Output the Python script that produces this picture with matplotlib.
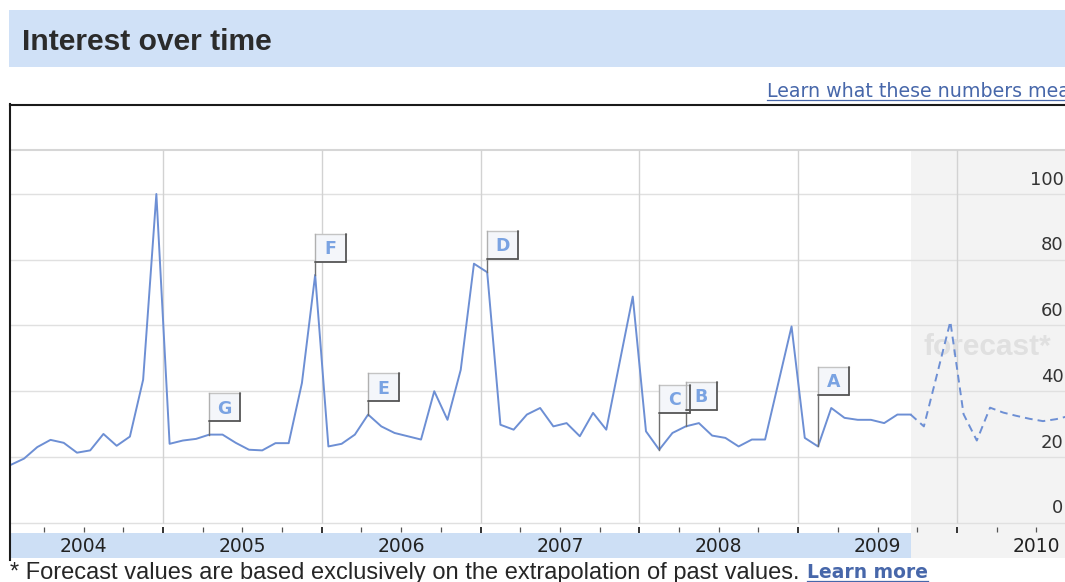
import matplotlib
matplotlib.use('Agg')
import matplotlib.pyplot as plt
from matplotlib.patches import Rectangle
from matplotlib.lines import Line2D
from matplotlib.transforms import blended_transform_factory

# ---------------- data ----------------
years = ['2004', '2005', '2006', '2007', '2008', '2009', '2010']
interest = [17.6, 19.5, 23.0, 25.2, 24.3, 21.3, 22.0, 27.0, 23.4, 26.2, 43.5, 100.0,
            24.0, 25.0, 25.5, 26.8, 26.8, 24.3, 22.2, 22.0, 24.2, 24.2, 42.5, 75.4,
            23.2, 24.0, 26.8, 32.9, 29.3, 27.3, 26.3, 25.3, 40.0, 31.3, 46.5, 78.8,
            76.2, 29.8, 28.3, 32.9, 34.9, 29.3, 30.3, 26.3, 33.4, 28.3, 48.6, 68.8,
            27.8, 22.2, 27.3, 29.3, 30.3, 26.5, 25.8, 23.2, 25.3, 25.3, 42.5, 59.7,
            25.8, 23.2, 34.9, 31.9, 31.3, 31.3, 30.3, 32.9, 32.9]
forecast = [32.9, 29.3, 45.2, 61.2, 33.0, 25.0, 35.0, 33.5, 32.5, 31.6, 30.9, 31.5, 32.5]
flag_letters = ['G', 'F', 'E', 'D', 'C', 'B', 'A']
flag_months = [15, 23, 27, 36, 49, 51, 61]
y_ticks = [0, 20, 40, 60, 80, 100]

# ---------------- layout (pixels) ----------------
W, H = 1065, 582
DPI = 100
x0_px, px_month = 10.8, 13.233
y0_px, px_unit = 522.7, 3.287
ax_l, ax_r, ax_t, ax_b = 10, 1065, 150, 527

def fx(x):
    return x / W

def fy(y):
    return 1 - y / H

fig = plt.figure(figsize=(W / DPI, H / DPI), dpi=DPI)
fig.patch.set_facecolor('white')

ax = fig.add_axes([fx(ax_l), fy(ax_b), (ax_r - ax_l) / W, (ax_b - ax_t) / H])
ax.set_facecolor('none')
xlim = ((ax_l - x0_px) / px_month, (ax_r - x0_px) / px_month)
ylim = ((y0_px - ax_b) / px_unit, (y0_px - ax_t) / px_unit)
ax.set_xlim(*xlim)
ax.set_ylim(*ylim)
for s in ax.spines.values():
    s.set_visible(False)
ax.set_yticks([])

# figure level background pieces
fig.add_artist(Rectangle((fx(9), fy(67)), (W - 9) / W, 57 / H, transform=fig.transFigure,
                         fc='#d0e1f7', ec='none', zorder=-2))
fc_start = len(interest) - 1
fc_px = x0_px + fc_start * px_month
fig.add_artist(Rectangle((fx(fc_px), fy(558)), (W - fc_px) / W, (558 - 151) / H,
                         transform=fig.transFigure, fc='#f3f3f3', ec='none', zorder=-2))
fig.add_artist(Rectangle((fx(11), fy(558)), (fc_px - 11) / W, 25 / H,
                         transform=fig.transFigure, fc='#cddff5', ec='none', zorder=-1))

# grid
ax.hlines(y_ticks, xlim[0], xlim[1], color='#e0e0e0', lw=1, zorder=1)
ax.axhline(ylim[1], color='#d6d6d6', lw=1.5, clip_on=False, zorder=1)
year_bounds = [12 * k - 0.5 for k in range(1, len(years))]
ax.vlines(year_bounds, 0, ylim[1], color='#d2d2d2', lw=1, zorder=1)

# ticks
quarters = [12 * k - 0.5 + q for k in range(len(years)) for q in (3, 6, 9)]
ax.set_xticks(year_bounds)
ax.set_xticks([q for q in quarters if xlim[0] < q < xlim[1]], minor=True)
ax.tick_params(axis='x', which='major', direction='out', length=4.6, width=1.4,
               color='#333333', labelbottom=False)
ax.tick_params(axis='x', which='minor', direction='out', length=3.6, width=0.9,
               color='#555555', labelbottom=False)

# year labels
btr = blended_transform_factory(ax.transData, fig.transFigure)
for k, yr in enumerate(years):
    ax.text(12 * k + 5.5, fy(546.5), yr, transform=btr, ha='center', va='center',
            fontsize=13.5, family='DejaVu Sans', color='#222222', clip_on=False)

# y labels
for v in y_ticks:
    ax.annotate(str(v), xy=(1.0, v), xycoords=('axes fraction', 'data'),
                xytext=(-1, 10.4), textcoords='offset points', ha='right', va='center',
                fontsize=13, family='DejaVu Sans', color='#333333', annotation_clip=False)

# watermark
ax.text(fx(923), fy(355), 'forecast*', transform=fig.transFigure, ha='left',
        va='baseline', fontsize=21.5, family='Liberation Sans', weight='bold',
        color='#e0e0e0', zorder=2)

# data lines
line_color = '#6d8fd4'
ax.plot(range(len(interest)), interest, color=line_color, lw=1.4, zorder=3)
ax.plot(range(fc_start, fc_start + len(forecast)), forecast, color=line_color, lw=1.4,
        ls=(0, (4, 2.6)), zorder=3)

# flags
bw = 31 / px_month
bh = 28 / px_unit
for letter, m in zip(flag_letters, flag_months):
    v = interest[m]
    b = max(interest[m:m + 3]) + 4.0
    ax.plot([m, m], [v, b], color='#707070', lw=1, zorder=4)
    ax.add_patch(Rectangle((m, b), bw, bh, fc='#f4f6fa', ec='none', zorder=5))
    ax.plot([m, m + bw], [b + bh, b + bh], color='#c4c4c4', lw=1, zorder=6)
    ax.plot([m, m], [b, b + bh], color='#b0b0b0', lw=1, zorder=6)
    ax.plot([m + bw, m + bw], [b, b + bh], color='#555555', lw=1.3, zorder=6,
            solid_capstyle='round')
    ax.plot([m, m + bw], [b, b], color='#555555', lw=1.3, zorder=6, solid_capstyle='round')
    ax.annotate(letter, xy=(m + bw / 2, b + bh / 2), xytext=(0, -4.4),
                textcoords='offset points', ha='center', va='baseline', fontsize=12.5,
                weight='bold', family='DejaVu Sans', color='#7aa3e2', zorder=7)

# box border
fig.add_artist(Line2D([fx(10), fx(10)], [fy(104), fy(560)], color='#1a1a1a', lw=1.5,
                      transform=fig.transFigure, zorder=8))
fig.add_artist(Line2D([fx(10), 1], [fy(105), fy(105)], color='#1a1a1a', lw=1.5,
                      transform=fig.transFigure, zorder=8))

# title and links
fig.text(fx(22), fy(50), 'Interest over time', fontsize=21.6, family='Liberation Sans',
         weight='bold', color='#2b2b2b', va='baseline', ha='left')
link_color = '#4767aa'
t_link = fig.text(fx(767), fy(97.3), 'Learn what these numbers mean', fontsize=13.7,
                  family='DejaVu Sans', color=link_color, va='baseline', ha='left')

t_foot = fig.text(fx(10), fy(578.5),
                  '* Forecast values are based exclusively on the extrapolation of past values.',
                  fontsize=14.5, family='Liberation Sans', color='#262626',
                  va='baseline', ha='left')
t_more = fig.text(fx(807), fy(578.5), 'Learn more', fontsize=13.5, family='DejaVu Sans',
                  weight='bold', color=link_color, va='baseline', ha='left')

renderer = fig.canvas.get_renderer()

def fit(t, target):
    w = t.get_window_extent(renderer).width
    t.set_fontsize(t.get_fontsize() * target / w)

fit(t_foot, 790)
fit(t_more, 121)

for t, yline in ((t_link, 100.3), (t_more, 580.8)):
    e = t.get_window_extent(renderer)
    fig.add_artist(Line2D([e.x0 / W, e.x1 / W], [fy(yline), fy(yline)], color=link_color,
                          lw=0.9, transform=fig.transFigure))

fig.savefig('out.png', dpi=DPI)
